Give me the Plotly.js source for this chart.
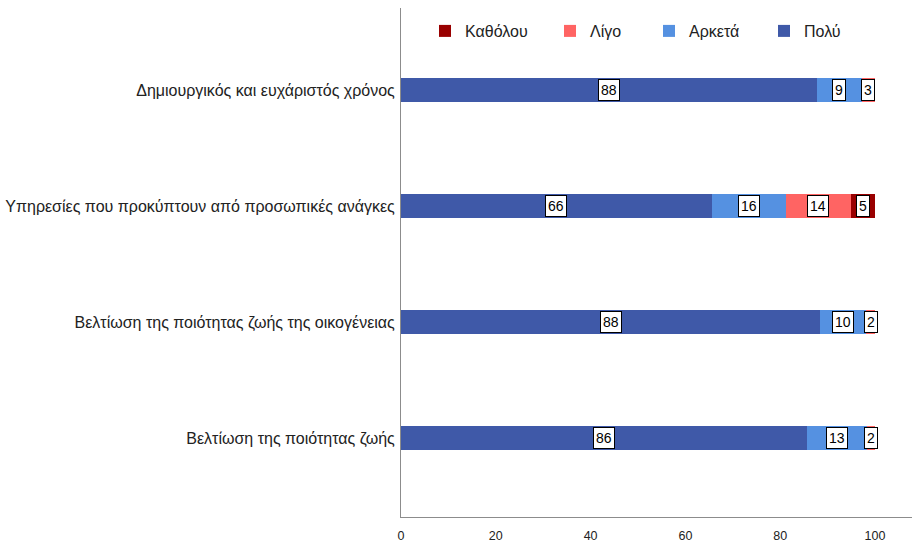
<!DOCTYPE html>
<html>
<head>
<meta charset="utf-8">
<script src="https://cdn.plot.ly/plotly-3.0.1.min.js"></script>
<style>html,body{margin:0;padding:0;background:#fff;}#chart{width:914px;height:544px;}</style>
</head>
<body>
<div id="chart"></div>
<script>
// Categories (bottom to top)
var categories = [
  "Βελτίωση της ποιότητας ζωής",
  "Βελτίωση της ποιότητας ζωής της οικογένειας",
  "Υπηρεσίες που προκύπτουν από προσωπικές ανάγκες",
  "Δημιουργικός και ευχάριστός χρόνος"
];
// Series values (percent), same order as categories
var poly     = [85.7, 88.4, 65.6, 87.8];   // Πολύ
var arketa   = [12.6, 9.8, 15.6, 9.4];     // Αρκετά
var ligo     = [1.7, 1.8, 13.7, 2.8];      // Λίγο
var katholou = [0, 0, 5.1, 0];             // Καθόλου
var seriesNames = ["Πολύ", "Αρκετά", "Λίγο", "Καθόλου"];
var seriesColors = ["#3f59a8", "#5591e1", "#ff6463", "#990000"];
var xTicks = [0, 20, 40, 60, 80, 100];

var FONT = "Liberation Sans, Arial, sans-serif";
var seriesValues = [poly, arketa, ligo, katholou];
var legendIds = ["legend4", "legend3", "legend2", "legend"];
var traces = seriesValues.map(function (vals, i) {
  return {
    type: "bar",
    orientation: "h",
    name: seriesNames[i],
    x: vals,
    y: categories,
    width: 0.215,
    marker: {color: seriesColors[i], line: {width: 0}},
    legend: legendIds[i],
    hoverinfo: "x+name"
  };
});

// Value labels in boxes at segment centres
var annotations = [];
categories.forEach(function (cat, ci) {
  var start = 0;
  seriesValues.forEach(function (vals) {
    var v = vals[ci];
    if (v > 0) {
      annotations.push({
        x: start + v / 2, y: cat, xref: "x", yref: "y",
        text: String(Math.round(v)), showarrow: false,
        font: {family: FONT, size: 14, color: "#000"},
        bgcolor: "#ffffff", bordercolor: "#000000", borderwidth: 1, borderpad: 2
      });
    }
    start += v;
  });
});

function leg(xpx) {
  return {
    x: (xpx - 401) / 511, xanchor: "left",
    yref: "container", y: 1 - 31 / 544, yanchor: "middle",
    orientation: "h", bgcolor: "rgba(0,0,0,0)",
    font: {family: FONT, size: 16, color: "#222"}
  };
}

var layout = {
  width: 914, height: 544,
  margin: {l: 401, r: 2, t: 8, b: 27, pad: 0, autoexpand: false},
  paper_bgcolor: "#ffffff", plot_bgcolor: "#ffffff",
  barmode: "stack",
  font: {family: FONT, size: 12, color: "#222"},
  xaxis: {
    range: [0, 107.8], tickvals: xTicks, ticktext: xTicks.map(String),
    showgrid: false, zeroline: false, showline: true, linecolor: "#8c8c8c", linewidth: 1,
    ticks: "", ticklabelstandoff: 7, tickfont: {family: FONT, size: 12.5, color: "#222"}, fixedrange: true
  },
  yaxis: {
    type: "category", categoryorder: "array", categoryarray: categories,
    range: [-0.681, 3.707],
    showgrid: false, zeroline: false, showline: true, linecolor: "#8c8c8c", linewidth: 1,
    ticks: "", ticklabelstandoff: 2, tickfont: {family: FONT, size: 16, color: "#222"}, fixedrange: true
  },
  legend: leg(425),
  legend2: leg(550),
  legend3: leg(649),
  legend4: leg(764),
  annotations: annotations,
  showlegend: true
};

Plotly.newPlot("chart", traces, layout, {displayModeBar: false, staticPlot: true});
</script>
</body>
</html>
